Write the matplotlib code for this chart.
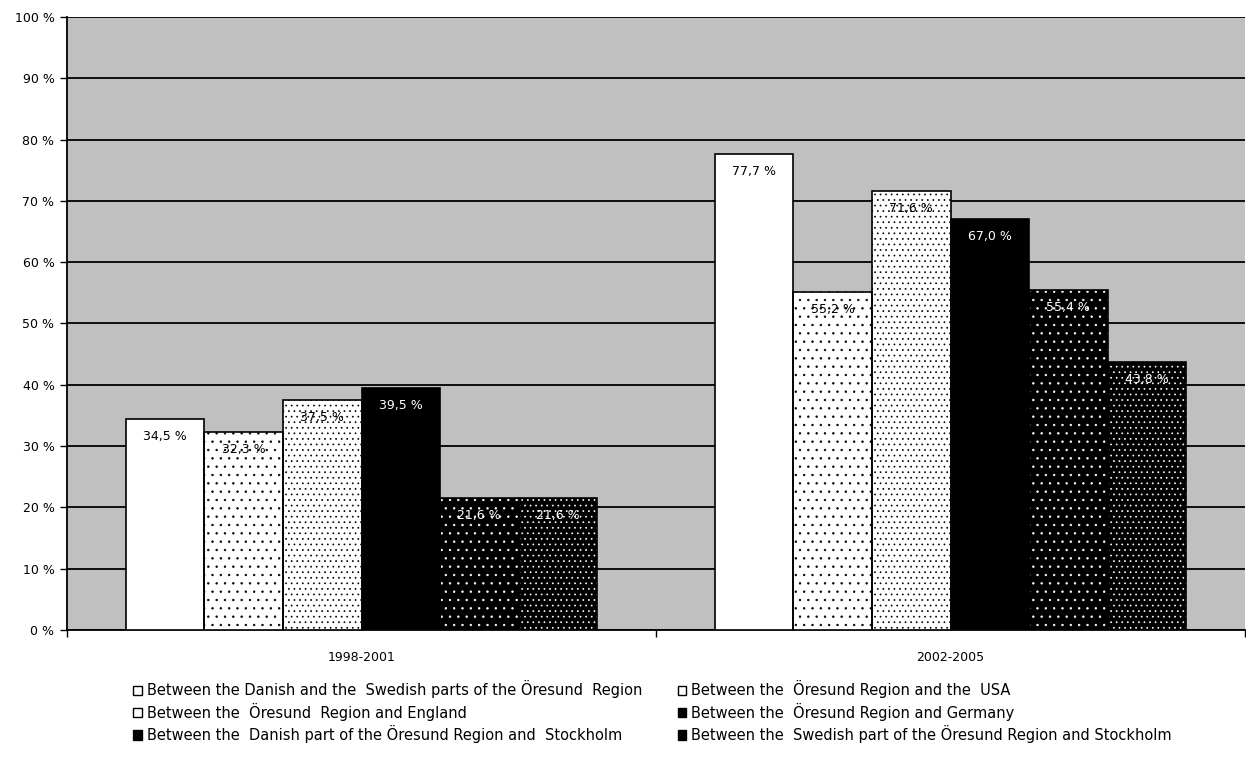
import numpy as np
import matplotlib.pyplot as plt
from matplotlib.patches import Patch

periods = ["1998-2001", "2002-2005"]
series = [
    "Between the Danish and the  Swedish parts of the Öresund  Region",
    "Between the  Öresund Region and the  USA",
    "Between the  Öresund  Region and England",
    "Between the  Öresund Region and Germany",
    "Between the  Danish part of the Öresund Region and  Stockholm",
    "Between the  Swedish part of the Öresund Region and Stockholm",
]
values = [
    [34.5, 77.7],
    [32.3, 55.2],
    [37.5, 71.6],
    [39.5, 67.0],
    [21.6, 55.4],
    [21.6, 43.8],
]
yticks = np.arange(0, 101, 10)

# fill, hatch, hatch colour, label colour per series
styles = [
    ("white", None, "black", "black"),
    ("white", "..", "black", "black"),
    ("white", "...", "black", "black"),
    ("black", None, "white", "white"),
    ("black", "..", "white", "white"),
    ("black", "...", "white", "white"),
]

plt.rcParams["hatch.linewidth"] = 0.5
fig = plt.figure(figsize=(12.46, 7.62), dpi=100)
ax = fig.add_axes([67 / 1246, 132 / 762, 1178 / 1246, 613 / 762])
ax.set_facecolor("#c0c0c0")

x = np.arange(len(periods))
n = len(series)
width = 1 / (n + 1.5)
for i, (name, vals) in enumerate(zip(series, values)):
    fc, hatch, hc, tc = styles[i]
    pos = x - width * n / 2 + width * (i + 0.5)
    ax.bar(pos, vals, width, color=fc, hatch=hatch, edgecolor=hc, linewidth=0, zorder=3)
    ax.bar(pos, vals, width, facecolor="none", edgecolor="black", linewidth=1.2, zorder=4)
    for p, v in zip(pos, vals):
        ax.text(p, v - 1.8, f"{v:.1f} %".replace(".", ","), ha="center", va="top",
                fontsize=9, color=tc, zorder=5)

ax.set_xlim(-0.5, len(periods) - 0.5)
ax.set_ylim(0, 100)
ax.set_yticks(yticks)
ax.set_yticklabels([f"{t} %" for t in yticks], fontsize=9)
ax.yaxis.grid(True, color="black", linewidth=1.3, zorder=1)
ax.set_axisbelow(True)
ax.set_xticks(x)
ax.set_xticklabels(periods, fontsize=9)
ax.set_xticks([-0.5, 0.5, 1.5], minor=True)
ax.tick_params(axis="x", which="major", length=0, pad=15)
ax.tick_params(axis="x", which="minor", length=5, width=1)
ax.tick_params(axis="y", length=5, width=1, pad=4)
for s in ["top", "right"]:
    ax.spines[s].set_visible(False)
ax.spines["left"].set_linewidth(1.3)
ax.spines["bottom"].set_linewidth(1.3)

# legend entries go row by row in two columns
order = [0, 2, 4, 1, 3, 5]
leg_handles = []
for i in order:
    fc, hatch, hc, tc = styles[i]
    leg_handles.append(Patch(facecolor=fc, edgecolor="black", label=series[i]))
fig.legend(handles=leg_handles, loc="upper left", bbox_to_anchor=(126 / 1246, 1 - 673 / 762),
           ncol=2, frameon=False, fontsize=10.5, handlelength=0.6, handleheight=0.6,
           handletextpad=0.35, columnspacing=2.4, labelspacing=0.3, borderpad=0)

fig.savefig("out.png", dpi=100)
